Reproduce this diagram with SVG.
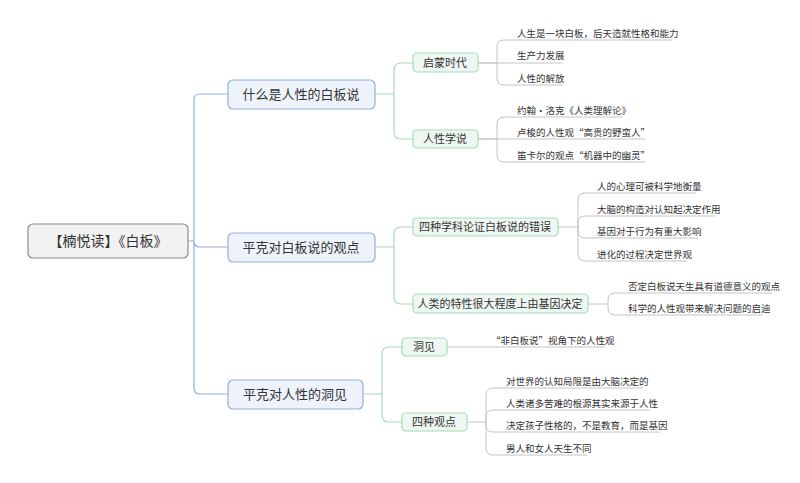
<svg xmlns="http://www.w3.org/2000/svg" width="800" height="483" viewBox="0 0 800 483">
<style>
text{font-family:"Noto Sans CJK SC","Liberation Sans",sans-serif;fill:#333}
.root rect{fill:#f2f2f2;stroke:#8a8a8a;stroke-width:1.2}
.l1 rect{fill:#eef3fb;stroke:#8fb0dc;stroke-width:1.2}
.l2 rect{fill:#eef7f1;stroke:#a8dcb8;stroke-width:1.2}
.l1 text{font-size:13px}
.l2 text{font-size:11px}
.leaf text{font-size:9.5px}
.c1{fill:none;stroke:#8fb0dc;stroke-width:1.2}
.c2{fill:none;stroke:#a8dcb8;stroke-width:1.2}
.c3{fill:none;stroke:#c4c4c4;stroke-width:1}
</style>
<rect width="800" height="483" fill="#fff"/>
<g id="connectors">
<path class="c1" d="M188,241 H194 M194,241 V100 Q194,94 200,94 H228 M194,241 Q194,247 200,247 H228 M194,241 V388 Q194,394 200,394 H228"/>
<path class="c2" d="M375,94 H394 V70 Q394,63 401,63 H413 M394,94 V132 Q394,139 401,139 H413"/>
<path class="c2" d="M375,247 H394 V234 Q394,227 401,227 H413 M394,247 V297 Q394,304 401,304 H413"/>
<path class="c2" d="M363,394 H382 V354 Q382,347 389,347 H402 M382,394 V415 Q382,422 389,422 H402"/>
<path class="c3" d="M478,63 H497 V47 Q497,40 504,40 H672 M478,63 H563 M497,63 V78 Q497,85 504,85 H563"/>
<path class="c3" d="M478,139 H497 V124 Q497,117 504,117 H622 M478,139 H645 M497,139 V155 Q497,162 504,162 H645"/>
<path class="c3" d="M558,227 H578 V200 Q578,193 585,193 H696 M578,227 V223 Q578,216 585,216 H715 M578,227 V231 Q578,238 585,238 H698 M578,227 V254 Q578,261 585,261 H687"/>
<path class="c3" d="M588,304 H608 V300 Q608,293 615,293 H772 M608,304 V308 Q608,315 615,315 H763"/>
<path class="c3" d="M447,347 H605"/>
<path class="c3" d="M467,422 H486 V395 Q486,388 493,388 H643 M486,422 V417 Q486,410 493,410 H650 M486,422 V425 Q486,432 493,432 H660 M486,422 V448 Q486,455 493,455 H587"/>
</g>
<g id="root" class="root"><rect x="28" y="224" width="160" height="34" rx="5"/><text x="108" y="246" text-anchor="middle" font-size="14">【楠悦读】《白板》</text></g>
<g id="n1" class="l1"><rect x="228" y="80" width="147" height="29" rx="5"/><text x="301" y="99" text-anchor="middle">什么是人性的白板说</text></g>
<g id="n2" class="l1"><rect x="228" y="233" width="147" height="29" rx="5"/><text x="301" y="252" text-anchor="middle">平克对白板说的观点</text></g>
<g id="n3" class="l1"><rect x="228" y="380" width="135" height="29" rx="5"/><text x="295" y="399" text-anchor="middle">平克对人性的洞见</text></g>
<g id="n11" class="l2"><rect x="413" y="53" width="65" height="19" rx="4"/><text x="445" y="67" text-anchor="middle">启蒙时代</text></g>
<g id="n12" class="l2"><rect x="413" y="130" width="65" height="18" rx="4"/><text x="445" y="143" text-anchor="middle">人性学说</text></g>
<g id="n21" class="l2"><rect x="413" y="218" width="145" height="18" rx="4"/><text x="485" y="231" text-anchor="middle">四种学科论证白板说的错误</text></g>
<g id="n22" class="l2"><rect x="413" y="294" width="175" height="19" rx="4"/><text x="500" y="308" text-anchor="middle">人类的特性很大程度上由基因决定</text></g>
<g id="n31" class="l2"><rect x="402" y="338" width="45" height="18" rx="4"/><text x="424" y="351" text-anchor="middle">洞见</text></g>
<g id="n32" class="l2"><rect x="402" y="413" width="65" height="18" rx="4"/><text x="434" y="426" text-anchor="middle">四种观点</text></g>
<g id="leaves" class="leaf">
<text x="517" y="37">人生是一块白板，后天造就性格和能力</text>
<text x="517" y="59">生产力发展</text>
<text x="517" y="82">人性的解放</text>
<text x="517" y="114">约翰•洛克《人类理解论》</text>
<text x="517" y="136">卢梭的人性观“高贵的野蛮人”</text>
<text x="517" y="159">笛卡尔的观点“机器中的幽灵”</text>
<text x="597" y="190">人的心理可被科学地衡量</text>
<text x="597" y="213">大脑的构造对认知起决定作用</text>
<text x="597" y="235">基因对于行为有重大影响</text>
<text x="597" y="258">进化的过程决定世界观</text>
<text x="628" y="290">否定白板说天生具有道德意义的观点</text>
<text x="628" y="312">科学的人性观带来解决问题的启迪</text>
<text x="491" y="344">“非白板说”视角下的人性观</text>
<text x="506" y="385">对世界的认知局限是由大脑决定的</text>
<text x="506" y="407">人类诸多苦难的根源其实来源于人性</text>
<text x="506" y="429">决定孩子性格的，不是教育，而是基因</text>
<text x="506" y="452">男人和女人天生不同</text>
</g>
</svg>
